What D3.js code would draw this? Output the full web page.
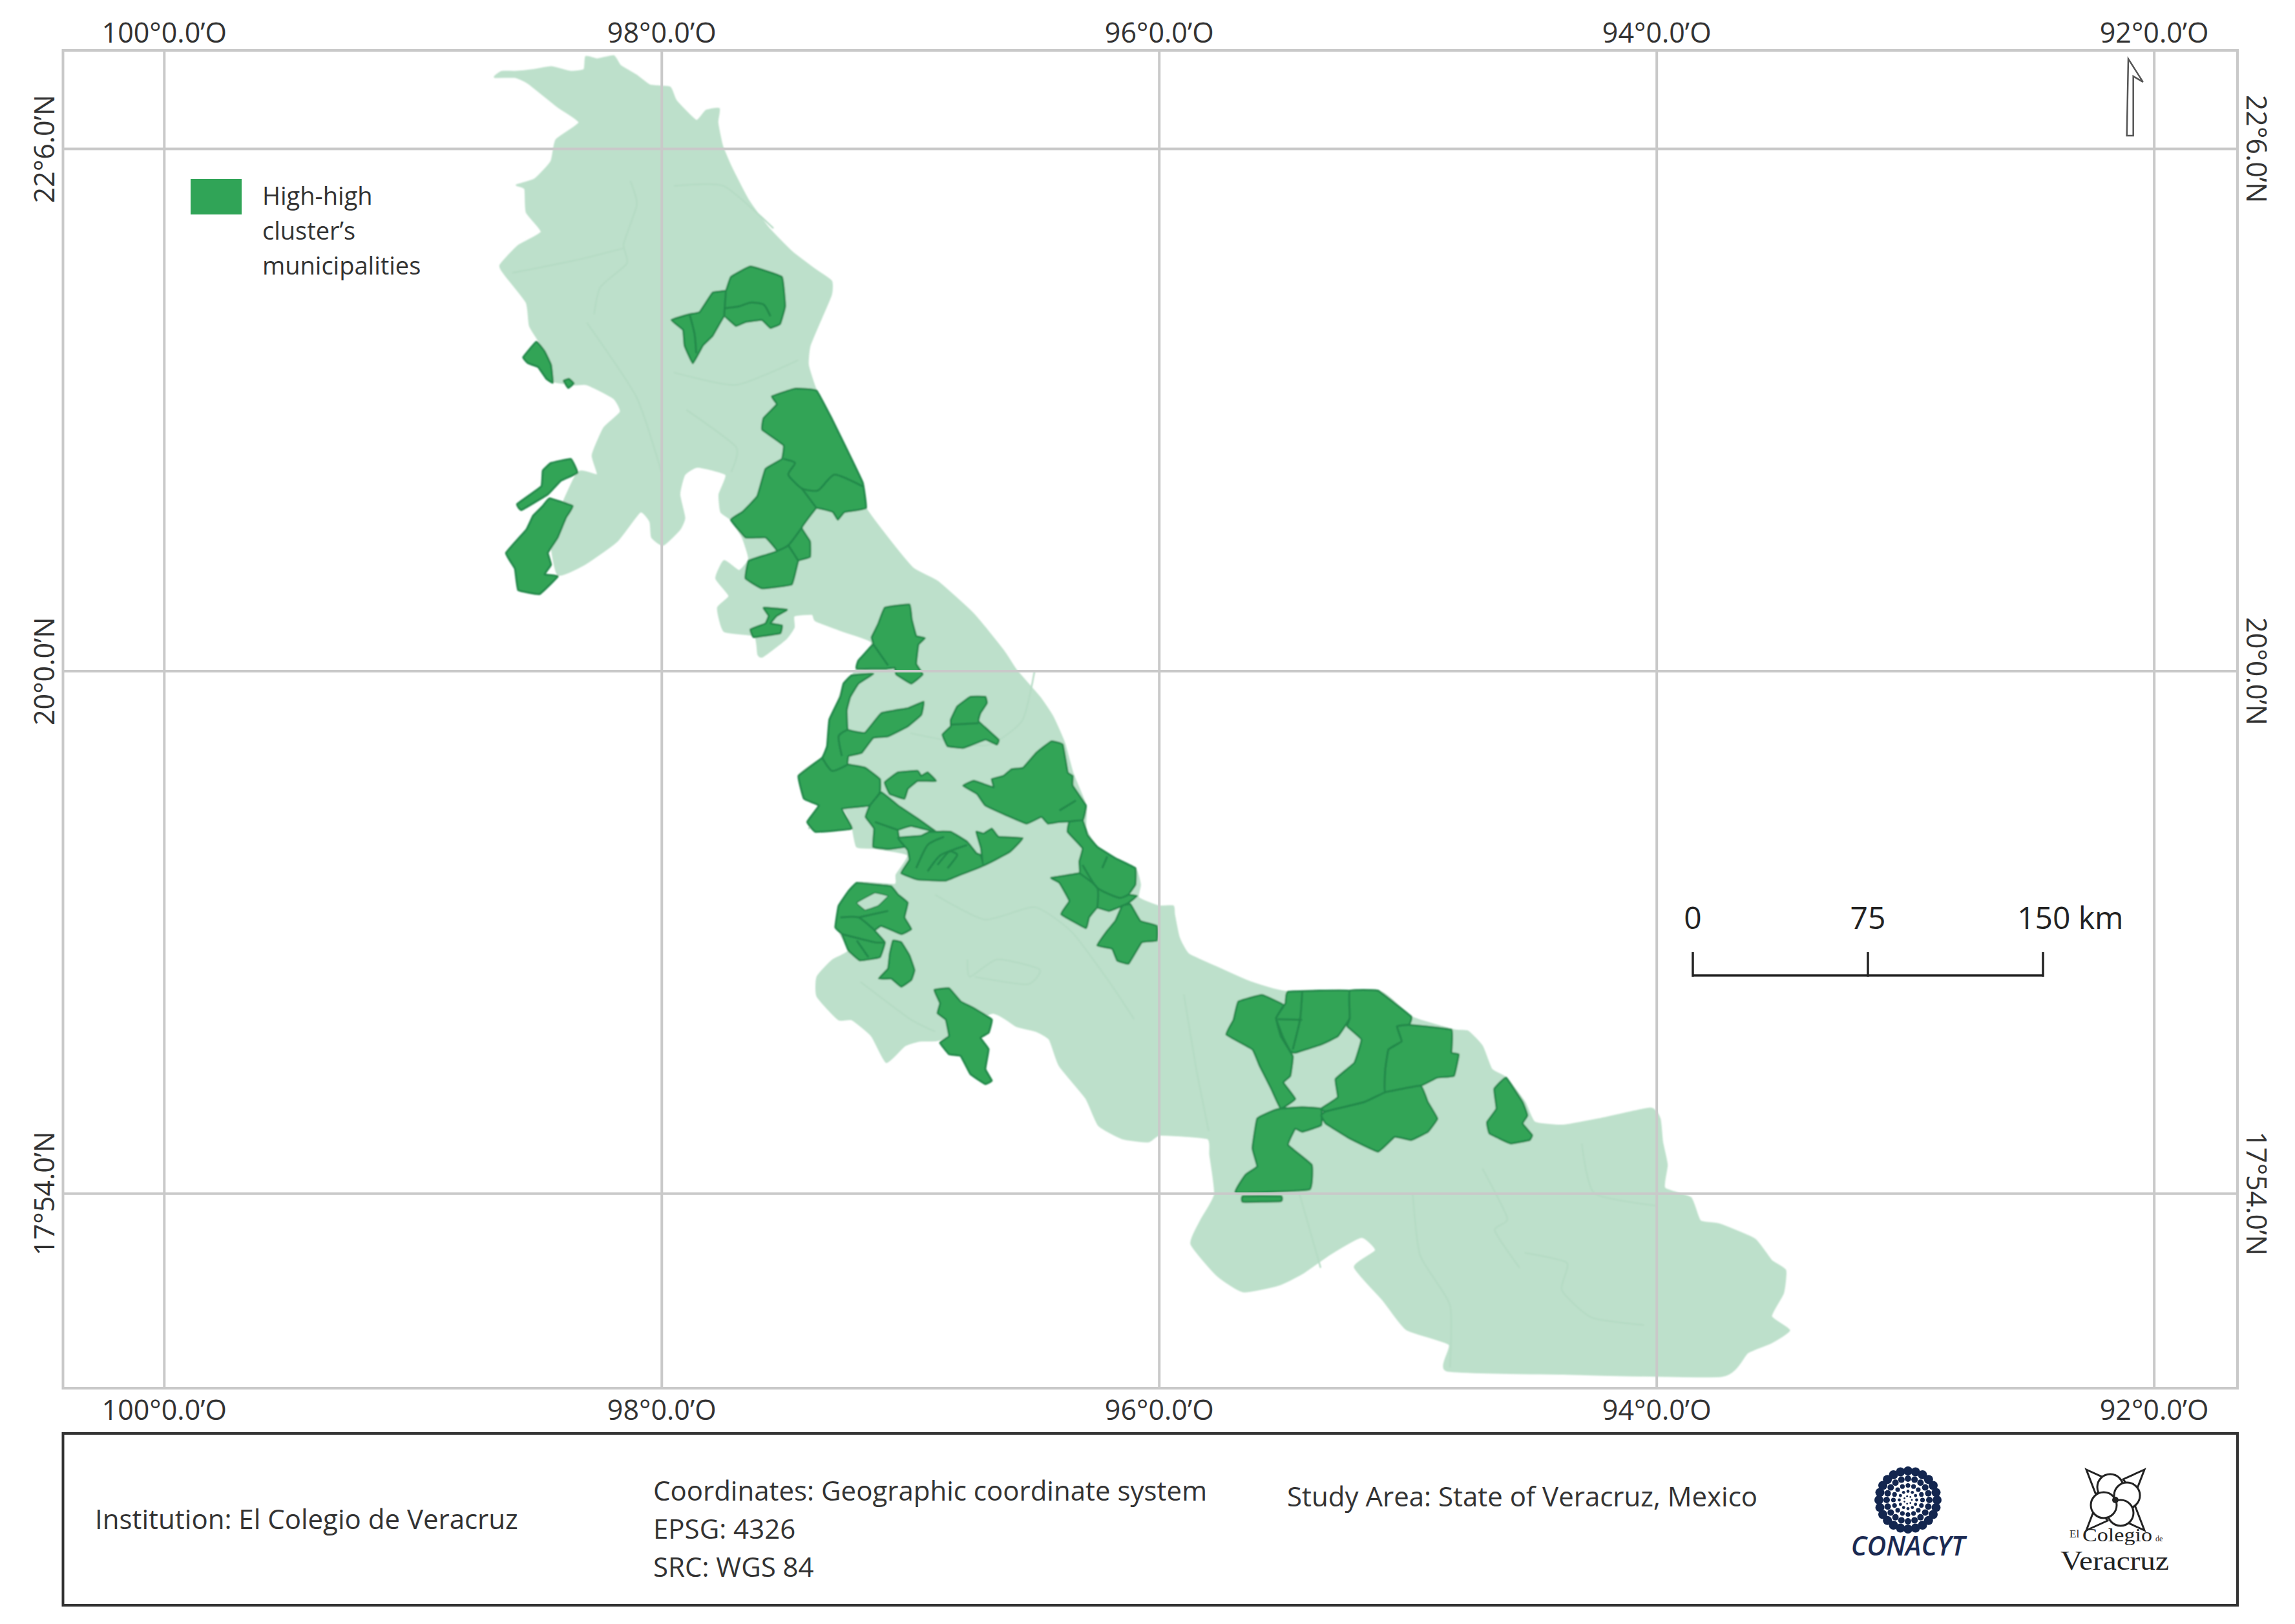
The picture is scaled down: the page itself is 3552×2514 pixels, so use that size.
<!DOCTYPE html>
<html>
<head>
<meta charset="utf-8">
<title>High-high cluster municipalities, Veracruz</title>
<script src="https://cdn.jsdelivr.net/npm/d3@7"></script>
<style>
  html, body { margin: 0; padding: 0; background: #fff; }
  svg text { font-family: "Open Sans", "Noto Sans", sans-serif; fill: #333; }
</style>
</head>
<body>
<div id="map"></div>
<script>
// Graticule values
const lonTicks = [-100, -98, -96, -94, -92];
const lonLabels = ["100°0.0’O", "98°0.0’O", "96°0.0’O", "94°0.0’O", "92°0.0’O"];
const latTicks = [22.1, 20, 17.9];
const latLabels = ["22°6.0’N", "20°0.0’N", "17°54.0’N"];

// Text
const legendLines = ["High-high", "cluster’s", "municipalities"];
const scaleKm = [0, 75, 150];

// State outline, [lon, lat]
const stateOutline = [
  [-98.671,22.387],[-98.642,22.410],[-98.589,22.410],[-98.510,22.418],[-98.443,22.429],[-98.364,22.410],[-98.311,22.418],[-98.304,22.470],
  [-98.258,22.460],[-98.192,22.473],[-98.165,22.434],[-98.099,22.394],[-98.046,22.355],[-97.966,22.347],[-97.940,22.292],[-97.860,22.213],
  [-97.821,22.253],[-97.768,22.261],[-97.774,22.205],[-97.755,22.111],[-97.715,22.017],[-97.649,21.891],[-97.569,21.781],[-97.476,21.686],
  [-97.383,21.615],[-97.317,21.568],[-97.317,21.513],[-97.357,21.418],[-97.403,21.308],[-97.410,21.230],[-97.377,21.127],[-97.317,21.017],
  [-97.251,20.883],[-97.191,20.757],[-97.178,20.655],[-97.079,20.521],[-96.986,20.411],[-96.890,20.360],[-96.744,20.228],[-96.625,20.082],
  [-96.572,20.002],[-96.480,19.896],[-96.427,19.817],[-96.380,19.711],[-96.347,19.592],[-96.294,19.459],[-96.294,19.366],[-96.254,19.300],
  [-96.175,19.247],[-96.095,19.207],[-96.075,19.141],[-96.082,19.088],[-96.003,19.055],[-95.943,19.055],[-95.938,19.021],[-95.919,18.929],
  [-95.881,18.862],[-95.767,18.809],[-95.633,18.750],[-95.481,18.710],[-95.119,18.714],[-94.986,18.610],[-94.814,18.557],[-94.757,18.551],
  [-94.700,18.491],[-94.662,18.398],[-94.605,18.365],[-94.529,18.266],[-94.490,18.186],[-94.376,18.173],[-94.224,18.200],[-94.024,18.242],
  [-93.986,18.200],[-93.976,18.107],[-93.957,18.014],[-93.967,17.921],[-93.862,17.882],[-93.824,17.789],[-93.747,17.776],[-93.605,17.716],
  [-93.538,17.630],[-93.481,17.590],[-93.490,17.498],[-93.538,17.405],[-93.465,17.349],[-93.538,17.299],[-93.633,17.259],[-93.738,17.164],
  [-94.376,17.173],[-94.843,17.186],[-94.833,17.292],[-95.005,17.352],[-95.100,17.471],[-95.214,17.603],[-95.129,17.670],[-95.186,17.723],
  [-95.310,17.656],[-95.424,17.577],[-95.519,17.531],[-95.662,17.504],[-95.767,17.570],[-95.871,17.696],[-95.833,17.789],[-95.776,17.895],
  [-95.795,18.054],[-95.805,18.120],[-95.995,18.134],[-96.043,18.107],[-96.148,18.120],[-96.243,18.173],[-96.294,18.282],[-96.400,18.412],
  [-96.440,18.518],[-96.493,18.551],[-96.572,18.571],[-96.672,18.624],[-96.877,18.518],[-96.963,18.512],[-97.023,18.492],[-97.096,18.426],
  [-97.155,18.532],[-97.235,18.598],[-97.288,18.598],[-97.374,18.691],[-97.374,18.770],[-97.314,18.836],[-97.248,18.876],[-97.294,18.969],
  [-97.288,19.048],[-97.215,19.148],[-97.062,19.141],[-97.056,19.181],[-97.010,19.260],[-97.142,19.287],[-97.215,19.293],[-97.235,19.380],
  [-97.275,19.446],[-97.407,19.366],[-97.367,19.459],[-97.449,19.578],[-97.354,19.651],[-97.334,19.698],[-97.314,19.804],[-97.275,19.923],
  [-97.215,20.009],[-97.155,20.115],[-97.275,20.161],[-97.380,20.201],[-97.394,20.228],[-97.467,20.221],[-97.467,20.175],[-97.500,20.128],
  [-97.592,20.058],[-97.612,20.066],[-97.626,20.141],[-97.748,20.159],[-97.774,20.254],[-97.728,20.301],[-97.781,20.372],[-97.748,20.443],
  [-97.688,20.403],[-97.649,20.451],[-97.675,20.537],[-97.721,20.608],[-97.761,20.639],[-97.768,20.710],[-97.741,20.789],[-97.854,20.820],
  [-97.907,20.789],[-97.927,20.710],[-97.907,20.616],[-97.927,20.568],[-97.993,20.506],[-98.039,20.537],[-98.046,20.600],[-98.086,20.639],
  [-98.179,20.521],[-98.311,20.427],[-98.417,20.387],[-98.444,20.553],[-98.338,20.797],[-98.258,20.789],[-98.278,20.868],[-98.231,20.978],
  [-98.165,21.041],[-98.192,21.096],[-98.298,21.151],[-98.351,21.151],[-98.444,21.167],[-98.470,21.230],[-98.483,21.308],[-98.530,21.387],
  [-98.543,21.481],[-98.629,21.592],[-98.649,21.631],[-98.576,21.710],[-98.483,21.765],[-98.543,21.844],[-98.549,21.938],[-98.583,21.954],
  [-98.510,21.977],[-98.444,22.048],[-98.424,22.135],[-98.331,22.205],[-98.417,22.268],[-98.536,22.363],[-98.589,22.387]
];

// Faint municipal borders inside the state
const municipalBorders = [
  [[-98.125,21.97],[-98.099,21.875],[-98.152,21.717],[-98.139,21.639],[-98.245,21.544],[-98.271,21.434]],
  [[-98.6,21.6],[-98.35,21.65],[-98.15,21.7]],
  [[-97.95,21.95],[-97.75,21.95],[-97.55,21.78]],
  [[-98.30,21.4],[-98.1,21.1],[-98.0,20.8]],
  [[-97.95,21.2],[-97.7,21.15],[-97.45,21.25]],
  [[-97.9,21.05],[-97.7,20.9],[-97.72,20.8]],
  [[-96.77,18.84],[-96.76,18.77],[-96.65,18.84],[-96.48,18.80],[-96.53,18.74],[-96.74,18.77]],
  [[-96.9,19.1],[-96.7,19.0],[-96.5,19.05],[-96.35,18.95],[-96.2,18.75],[-96.1,18.6]],
  [[-95.9,18.7],[-95.85,18.4],[-95.8,18.15]],
  [[-94.53,17.66],[-94.36,17.62],[-94.38,17.51],[-94.26,17.40],[-94.05,17.37]],
  [[-95.45,17.95],[-95.35,17.6]],
  [[-94.98,17.9],[-94.95,17.65],[-94.83,17.45],[-94.83,17.2]],
  [[-94.7,18.0],[-94.6,17.8],[-94.65,17.75],[-94.55,17.6]],
  [[-94.3,18.1],[-94.25,17.9],[-94.0,17.85]],
  [[-97.2,18.75],[-97.0,18.6],[-96.9,18.55]],
  [[-97.0,19.75],[-96.7,19.7],[-96.55,19.8],[-96.5,20.0]]
];

// High-high cluster municipalities, grouped by contiguous patch
const clusterPatches = [
  [[-97.960,21.411],[-97.887,21.434],[-97.847,21.442],[-97.794,21.521],[-97.741,21.529],[-97.721,21.584],[-97.642,21.626],[-97.516,21.584],[-97.503,21.466],[-97.523,21.395],[-97.562,21.379],[-97.596,21.411],[-97.662,21.403],[-97.701,21.387],[-97.748,21.426],[-97.794,21.348],[-97.834,21.308],[-97.874,21.237],[-97.907,21.308],[-97.913,21.371]],
  [[-98.556,21.261],[-98.503,21.324],[-98.470,21.285],[-98.444,21.230],[-98.437,21.159],[-98.463,21.175],[-98.496,21.222],[-98.536,21.237]],
  [[-98.393,21.167],[-98.371,21.174],[-98.353,21.156],[-98.375,21.138]],
  [[-98.580,20.671],[-98.483,20.742],[-98.477,20.805],[-98.444,20.836],[-98.364,20.852],[-98.338,20.797],[-98.404,20.765],[-98.457,20.710],[-98.563,20.647]],
  [[-98.450,20.694],[-98.357,20.663],[-98.384,20.616],[-98.417,20.537],[-98.437,20.506],[-98.457,20.474],[-98.444,20.427],[-98.470,20.388],[-98.417,20.380],[-98.490,20.309],[-98.576,20.325],[-98.589,20.411],[-98.625,20.474],[-98.543,20.568],[-98.516,20.624],[-98.477,20.663]],
  [[-97.556,21.104],[-97.463,21.135],[-97.377,21.127],[-97.317,21.017],[-97.251,20.883],[-97.191,20.757],[-97.178,20.655],[-97.264,20.639],[-97.291,20.608],[-97.311,20.639],[-97.377,20.655],[-97.436,20.576],[-97.403,20.521],[-97.403,20.458],[-97.450,20.443],[-97.476,20.348],[-97.596,20.332],[-97.662,20.372],[-97.649,20.443],[-97.536,20.482],[-97.582,20.537],[-97.662,20.537],[-97.721,20.608],[-97.675,20.639],[-97.615,20.702],[-97.582,20.812],[-97.516,20.852],[-97.509,20.907],[-97.595,20.970],[-97.589,21.017],[-97.536,21.072]],
  [[-97.589,20.254],[-97.496,20.246],[-97.536,20.222],[-97.562,20.191],[-97.516,20.183],[-97.523,20.151],[-97.629,20.136],[-97.642,20.167],[-97.582,20.191],[-97.569,20.222]],
  [[-97.102,20.254],[-97.003,20.267],[-96.994,20.208],[-96.976,20.141],[-96.941,20.132],[-96.967,20.106],[-96.976,20.029],[-96.950,19.986],[-96.996,19.949],[-97.056,19.986],[-97.062,20.013],[-97.096,20.009],[-97.215,20.009],[-97.208,20.042],[-97.149,20.108],[-97.155,20.135],[-97.129,20.188]],
  [[-97.268,19.949],[-97.235,19.982],[-97.149,19.989],[-97.208,19.949],[-97.241,19.896],[-97.255,19.843],[-97.251,19.764],[-97.182,19.751],[-97.116,19.830],[-97.010,19.850],[-96.946,19.876],[-96.956,19.823],[-97.010,19.777],[-97.089,19.737],[-97.149,19.731],[-97.195,19.671],[-97.248,19.658],[-97.251,19.625],[-97.182,19.611],[-97.122,19.565],[-97.122,19.512],[-97.162,19.459],[-97.275,19.446],[-97.235,19.366],[-97.380,19.353],[-97.414,19.393],[-97.367,19.459],[-97.427,19.486],[-97.449,19.578],[-97.354,19.651],[-97.334,19.698],[-97.325,19.804],[-97.281,19.896]],
  [[-96.811,19.857],[-96.758,19.896],[-96.698,19.896],[-96.692,19.870],[-96.718,19.830],[-96.725,19.797],[-96.645,19.724],[-96.652,19.704],[-96.698,19.724],[-96.784,19.691],[-96.850,19.698],[-96.870,19.744],[-96.837,19.777],[-96.837,19.803]],
  [[-97.102,19.552],[-97.049,19.592],[-96.970,19.598],[-96.956,19.578],[-96.930,19.592],[-96.897,19.558],[-96.970,19.558],[-97.010,19.525],[-97.023,19.486],[-97.082,19.505]],
  [[-97.116,19.512],[-97.049,19.459],[-96.970,19.406],[-96.897,19.353],[-96.996,19.377],[-97.049,19.360],[-97.043,19.320],[-97.023,19.293],[-97.089,19.284],[-97.149,19.293],[-97.145,19.366],[-97.179,19.413],[-97.162,19.459]],
  [[-97.049,19.329],[-96.956,19.337],[-96.923,19.353],[-96.837,19.353],[-96.771,19.313],[-96.734,19.267],[-96.718,19.260],[-96.705,19.218],[-96.797,19.181],[-96.857,19.157],[-96.970,19.161],[-97.036,19.187],[-97.003,19.240],[-97.010,19.280]],
  [[-96.734,19.353],[-96.705,19.346],[-96.672,19.366],[-96.645,19.333],[-96.548,19.327],[-96.599,19.273],[-96.705,19.218],[-96.715,19.287]],
  [[-96.787,19.539],[-96.744,19.558],[-96.665,19.532],[-96.672,19.565],[-96.625,19.578],[-96.592,19.605],[-96.546,19.611],[-96.493,19.671],[-96.433,19.717],[-96.387,19.704],[-96.367,19.592],[-96.347,19.578],[-96.347,19.539],[-96.294,19.459],[-96.307,19.399],[-96.400,19.393],[-96.446,19.386],[-96.473,19.413],[-96.532,19.386],[-96.612,19.419],[-96.698,19.459],[-96.731,19.505]],
  [[-96.360,19.393],[-96.307,19.399],[-96.287,19.340],[-96.248,19.293],[-96.175,19.247],[-96.095,19.207],[-96.095,19.141],[-96.122,19.101],[-96.089,19.095],[-96.122,19.068],[-96.148,19.055],[-96.201,19.035],[-96.248,19.048],[-96.281,19.009],[-96.294,18.966],[-96.393,19.022],[-96.360,19.075],[-96.400,19.148],[-96.433,19.168],[-96.320,19.187],[-96.320,19.234],[-96.307,19.287],[-96.367,19.353]],
  [[-96.148,19.055],[-96.115,19.062],[-96.075,18.995],[-96.009,18.975],[-96.009,18.916],[-96.069,18.909],[-96.122,18.823],[-96.168,18.836],[-96.188,18.883],[-96.248,18.896],[-96.208,18.955],[-96.175,18.995]],
  [[-97.215,19.148],[-97.142,19.141],[-97.076,19.134],[-97.049,19.101],[-97.010,19.068],[-97.023,19.009],[-96.996,18.962],[-97.036,18.942],[-97.116,18.975],[-97.142,18.956],[-97.102,18.909],[-97.122,18.849],[-97.202,18.836],[-97.248,18.876],[-97.275,18.942],[-97.301,18.969],[-97.288,19.055],[-97.248,19.115]],
  [[-97.069,18.916],[-97.036,18.909],[-97.003,18.856],[-96.983,18.797],[-96.996,18.757],[-97.036,18.730],[-97.076,18.763],[-97.126,18.763],[-97.089,18.803],[-97.082,18.863]],
  [[-96.903,18.717],[-96.844,18.724],[-96.797,18.671],[-96.744,18.644],[-96.672,18.598],[-96.685,18.545],[-96.718,18.525],[-96.685,18.479],[-96.698,18.399],[-96.672,18.353],[-96.698,18.339],[-96.758,18.379],[-96.797,18.452],[-96.844,18.459],[-96.880,18.505],[-96.844,18.532],[-96.857,18.598],[-96.890,18.624],[-96.880,18.664]],
  [[-95.681,18.670],[-95.586,18.697],[-95.500,18.657],[-95.529,18.604],[-95.510,18.531],[-95.462,18.451],[-95.472,18.372],[-95.500,18.345],[-95.452,18.279],[-95.510,18.240],[-95.548,18.319],[-95.595,18.412],[-95.624,18.478],[-95.729,18.538],[-95.700,18.597]],
  [[-95.510,18.240],[-95.424,18.246],[-95.348,18.240],[-95.348,18.173],[-95.424,18.147],[-95.452,18.160],[-95.481,18.094],[-95.386,18.014],[-95.395,17.915],[-95.691,17.902],[-95.652,17.974],[-95.605,18.008],[-95.624,18.081],[-95.605,18.200],[-95.538,18.233]],
  [[-95.662,17.888],[-95.510,17.888],[-95.510,17.868],[-95.662,17.865]],
  [[-95.481,18.710],[-95.233,18.714],[-95.233,18.604],[-95.281,18.531],[-95.348,18.498],[-95.452,18.465],[-95.472,18.471],[-95.500,18.524],[-95.529,18.604],[-95.491,18.664]],
  [[-95.233,18.714],[-95.119,18.714],[-94.986,18.610],[-94.995,18.577],[-95.043,18.571],[-95.024,18.511],[-95.077,18.478],[-95.090,18.398],[-95.090,18.306],[-95.176,18.266],[-95.329,18.229],[-95.348,18.240],[-95.281,18.286],[-95.290,18.359],[-95.214,18.425],[-95.186,18.518],[-95.243,18.571],[-95.233,18.604]],
  [[-94.995,18.577],[-94.824,18.557],[-94.824,18.465],[-94.795,18.458],[-94.814,18.372],[-94.881,18.365],[-94.948,18.332],[-95.090,18.306],[-95.090,18.398],[-95.077,18.478],[-95.024,18.511],[-95.043,18.571]],
  [[-95.090,18.306],[-94.948,18.332],[-94.919,18.266],[-94.881,18.200],[-94.919,18.147],[-94.986,18.114],[-95.052,18.127],[-95.119,18.067],[-95.233,18.120],[-95.329,18.180],[-95.348,18.213],[-95.329,18.229],[-95.176,18.266]],
  [[-94.605,18.365],[-94.538,18.266],[-94.519,18.213],[-94.538,18.180],[-94.500,18.134],[-94.510,18.114],[-94.586,18.100],[-94.671,18.140],[-94.681,18.186],[-94.643,18.240],[-94.652,18.319]]
];

// Borders between municipalities inside the patches
const clusterBorders = [
  [[-97.741,21.529],[-97.748,21.426]],
  [[-97.887,21.434],[-97.867,21.355],[-97.860,21.277]],
  [[-97.748,21.458],[-97.688,21.466],[-97.642,21.481],[-97.589,21.473],[-97.562,21.426]],
  [[-97.509,20.852],[-97.463,20.836],[-97.490,20.789],[-97.436,20.734],[-97.370,20.726],[-97.304,20.789],[-97.191,20.742]],
  [[-97.436,20.734],[-97.377,20.655]],
  [[-97.436,20.576],[-97.490,20.505],[-97.536,20.482]],
  [[-97.490,20.505],[-97.450,20.443]],
  [[-97.149,20.108],[-97.089,20.022]],
  [[-97.251,19.764],[-97.288,19.737],[-97.275,19.658]],
  [[-97.354,19.651],[-97.314,19.598],[-97.248,19.625]],
  [[-97.142,19.393],[-97.049,19.360]],
  [[-96.976,19.207],[-96.930,19.300],[-96.864,19.333]],
  [[-96.930,19.194],[-96.877,19.260],[-96.771,19.300]],
  [[-96.890,19.220],[-96.844,19.273],[-96.811,19.260],[-96.850,19.207]],
  [[-96.837,19.784],[-96.725,19.790]],
  [[-96.400,19.439],[-96.334,19.479]],
  [[-96.320,19.187],[-96.248,19.128],[-96.248,19.048]],
  [[-96.307,19.220],[-96.248,19.128],[-96.161,19.088],[-96.122,19.101]],
  [[-96.208,19.254],[-96.228,19.207]],
  [[-97.281,19.009],[-97.208,19.009],[-97.142,18.956]],
  [[-97.208,19.009],[-97.089,19.035]],
  [[-97.275,18.942],[-97.142,18.909],[-97.102,18.909]],
  [[-97.215,18.916],[-97.168,18.849]],
  [[-95.424,18.710],[-95.433,18.597],[-95.462,18.478]],
  [[-95.523,18.600],[-95.424,18.597]]
];

// Hole in the ring-shaped patch
const ringHole = [[-97.215,19.068],[-97.142,19.108],[-97.089,19.095],[-97.129,19.055],[-97.182,19.038]];

// North arrow
const northArrow = [[-92.103,22.461],[-92.044,22.368],[-92.083,22.391],[-92.083,22.152],[-92.109,22.152]];

// Rings of the CONACYT logo: radius, dot count, dot radius
const logoRingRadius = [45, 33, 22.5, 13.5, 6];
const logoRingCount = [24, 20, 16, 12, 7];
const logoRingDot = [7, 5, 3.6, 2.4, 1.4];

const width = 3552;
const height = 2514;
const frame = { left: 97.5, right: 3463, top: 78, bottom: 2149 };
const lightGreen = "#bde0cb";
const darkGreen = "#30a457";
const clusterEdge = "#23874a";
const gridGrey = "#c9c9c9";

const svg = d3.select("#map").append("svg")
    .attr("width", width)
    .attr("height", height)
    .style("display", "block");

// The reference is a soft scan, so the map layer gets a touch of blur
svg.append("defs").append("filter")
    .attr("id", "soft")
    .append("feGaussianBlur")
    .attr("stdDeviation", 1.2);

// Plate carree, same pixels per degree both ways
const x = d3.scaleLinear().domain([-100.406, -91.664]).range([frame.left, frame.right]);
const y = d3.scaleLinear().domain([22.495, 17.116]).range([frame.top, frame.bottom]);
const geoLine = d3.line().x(d => x(d[0])).y(d => y(d[1])).curve(d3.curveCardinal.tension(0.4));
const stateArea = d3.line().x(d => x(d[0])).y(d => y(d[1])).curve(d3.curveCardinalClosed.tension(0.5));
const patchArea = d3.line().x(d => x(d[0])).y(d => y(d[1])).curve(d3.curveCardinalClosed.tension(0.75));
const straight = d3.line().x(d => x(d[0])).y(d => y(d[1]));

const mapLayer = svg.append("g").attr("filter", "url(#soft)");

// State
mapLayer.append("path")
    .attr("d", stateArea(stateOutline))
    .attr("fill", lightGreen)
    .attr("stroke", lightGreen)
    .attr("stroke-width", 2);

mapLayer.append("g").selectAll("path")
    .data(municipalBorders)
    .join("path")
    .attr("d", geoLine)
    .attr("fill", "none")
    .attr("stroke", "#b5dbc4")
    .attr("stroke-width", 2.5);

// Cluster municipalities
mapLayer.append("g").selectAll("path")
    .data(clusterPatches)
    .join("path")
    .attr("d", patchArea)
    .attr("fill", darkGreen)
    .attr("stroke", clusterEdge)
    .attr("stroke-width", 3)
    .attr("stroke-linejoin", "round");

mapLayer.append("g").selectAll("path")
    .data(clusterBorders)
    .join("path")
    .attr("d", geoLine)
    .attr("fill", "none")
    .attr("stroke", clusterEdge)
    .attr("stroke-width", 3);

mapLayer.append("path")
    .attr("d", patchArea(ringHole))
    .attr("fill", lightGreen)
    .attr("stroke", clusterEdge)
    .attr("stroke-width", 2);

// Graticule and labels, all four sides through d3 axes
const lonLabel = d3.scaleOrdinal().domain(lonTicks).range(lonLabels);
const latLabel = d3.scaleOrdinal().domain(latTicks).range(latLabels);
const frameHeight = frame.bottom - frame.top;
const frameWidth = frame.right - frame.left;

function styleAxis(g) {
    g.select(".domain").remove();
    g.selectAll("line").attr("stroke", gridGrey).attr("stroke-width", 4);
    g.selectAll("text")
        .style("font-size", "43px")
        .attr("fill", "#333");
}

svg.append("g")
    .attr("transform", `translate(0,${frame.top})`)
    .call(d3.axisTop(x).tickValues(lonTicks).tickFormat(d => lonLabel(d)).tickSize(0).tickPadding(12))
    .call(styleAxis);

svg.append("g")
    .attr("transform", `translate(0,${frame.bottom})`)
    .call(d3.axisBottom(x).tickValues(lonTicks).tickFormat(d => lonLabel(d)).tickSizeInner(-frameHeight).tickSizeOuter(0).tickPadding(18))
    .call(styleAxis);

svg.append("g")
    .attr("transform", `translate(${frame.left},0)`)
    .call(d3.axisLeft(y).tickValues(latTicks).tickFormat(d => latLabel(d)).tickSizeInner(-frameWidth).tickSizeOuter(0).tickPadding(0))
    .call(styleAxis)
    .call(g => g.selectAll("text")
        .attr("x", null).attr("dy", null)
        .attr("text-anchor", "middle")
        .attr("transform", "translate(-14,0) rotate(-90)"));

svg.append("g")
    .attr("transform", `translate(${frame.right},0)`)
    .call(d3.axisRight(y).tickValues(latTicks).tickFormat(d => latLabel(d)).tickSize(0))
    .call(styleAxis)
    .call(g => g.selectAll("text")
        .attr("x", null).attr("dy", null)
        .attr("text-anchor", "middle")
        .attr("transform", "translate(14,0) rotate(90)"));

// Frame on top of the graticule
svg.append("rect")
    .attr("x", frame.left).attr("y", frame.top)
    .attr("width", frameWidth).attr("height", frameHeight)
    .attr("fill", "none")
    .attr("stroke", gridGrey)
    .attr("stroke-width", 4);

// North arrow
svg.append("path")
    .attr("d", straight(northArrow) + "Z")
    .attr("fill", "#fff")
    .attr("stroke", "#555")
    .attr("stroke-width", 2.5);

// Legend
svg.append("rect")
    .attr("x", 295).attr("y", 277)
    .attr("width", 79).attr("height", 55)
    .attr("fill", darkGreen);

svg.append("g").selectAll("text")
    .data(legendLines)
    .join("text")
    .attr("x", 406)
    .attr("y", (d, i) => 317 + i * 54)
    .style("font-size", "38px")
    .text(d => d);

// Scale bar
const kmScale = d3.scaleLinear().domain([0, 150]).range([2620, 3162]);
const barY = 1510;
svg.append("line")
    .attr("x1", kmScale(0)).attr("x2", kmScale(150))
    .attr("y1", barY).attr("y2", barY)
    .attr("stroke", "#222").attr("stroke-width", 3.5);
svg.append("g").selectAll("line")
    .data(scaleKm)
    .join("line")
    .attr("x1", d => kmScale(d)).attr("x2", d => kmScale(d))
    .attr("y1", barY - 36).attr("y2", barY + 2)
    .attr("stroke", "#222").attr("stroke-width", 3.5);
svg.append("g").selectAll("text")
    .data(scaleKm)
    .join("text")
    .attr("x", d => kmScale(d))
    .attr("y", 1438)
    .attr("text-anchor", d => d === 150 ? "start" : "middle")
    .attr("dx", d => d === 150 ? -40 : 0)
    .style("font-size", "48px")
    .style("fill", "#222")
    .text(d => d === 150 ? "150 km" : d);

// Credits box
svg.append("rect")
    .attr("x", 97.5).attr("y", 2219)
    .attr("width", 3365.5).attr("height", 266)
    .attr("fill", "none")
    .attr("stroke", "#333")
    .attr("stroke-width", 4);

const creditLines = [
    { text: "Institution: El Colegio de Veracruz", x: 147, y: 2367 },
    { text: "Coordinates: Geographic coordinate system", x: 1011, y: 2323 },
    { text: "EPSG: 4326", x: 1011, y: 2382 },
    { text: "SRC: WGS 84", x: 1011, y: 2441 },
    { text: "Study Area: State of Veracruz, Mexico", x: 1992, y: 2332 }
];
svg.append("g").selectAll("text")
    .data(creditLines)
    .join("text")
    .attr("x", d => d.x)
    .attr("y", d => d.y)
    .style("font-size", "42px")
    .text(d => d.text);

// CONACYT logo
const conacyt = svg.append("g").attr("transform", "translate(2953,2322)");
logoRingRadius.forEach((radius, ring) => {
    d3.range(logoRingCount[ring]).forEach(i => {
        const angle = i / logoRingCount[ring] * 2 * Math.PI;
        conacyt.append("circle")
            .attr("cx", radius * Math.cos(angle))
            .attr("cy", radius * Math.sin(angle))
            .attr("r", logoRingDot[ring])
            .attr("fill", "#13264f");
    });
});
conacyt.append("text")
    .attr("y", 86)
    .attr("text-anchor", "middle")
    .style("font-size", "41px")
    .style("font-weight", 600)
    .style("font-style", "italic")
    .style("fill", "#1b2a52")
    .text("CONACYT");

// El Colegio de Veracruz logo
const colegio = svg.append("g").attr("transform", "translate(3274,2322)");
const tips = [[-45, -47, -12, -32, -30, -8], [45, -47, 12, -32, 30, -8], [45, 47, 12, 32, 30, 8], [-45, 47, -12, 32, -30, 8]];
colegio.selectAll("path")
    .data(tips)
    .join("path")
    .attr("d", d => `M${d[0]},${d[1]}L${d[2]},${d[3]}L${d[4]},${d[5]}Z`)
    .attr("stroke", "#222")
    .attr("stroke-width", 3)
    .attr("fill", "#fff");
const petals = [[-8, -20, 20], [18, -7, 20], [8, 20, 20], [-18, 8, 20]];
colegio.selectAll("circle")
    .data(petals)
    .join("circle")
    .attr("cx", d => d[0]).attr("cy", d => d[1]).attr("r", d => d[2])
    .attr("fill", "#fff")
    .attr("stroke", "#222")
    .attr("stroke-width", 3);
colegio.append("circle").attr("r", 5).attr("fill", "#222");
const serif = "'Liberation Serif', serif";
colegio.append("text").attr("x", -71).attr("y", 58)
    .style("font-family", serif).style("font-size", "17px").style("fill", "#222").text("El");
colegio.append("text").attr("x", -51).attr("y", 64)
    .attr("textLength", 108).attr("lengthAdjust", "spacingAndGlyphs")
    .style("font-family", serif).style("font-size", "30px").style("fill", "#222").text("Colegio");
colegio.append("text").attr("x", 62).attr("y", 64)
    .style("font-family", serif).style("font-size", "12px").style("fill", "#222").text("de");
colegio.append("text").attr("x", -85).attr("y", 108)
    .attr("textLength", 168).attr("lengthAdjust", "spacingAndGlyphs")
    .style("font-family", serif).style("font-size", "42px").style("fill", "#222").text("Veracruz");
</script>
</body>
</html>
